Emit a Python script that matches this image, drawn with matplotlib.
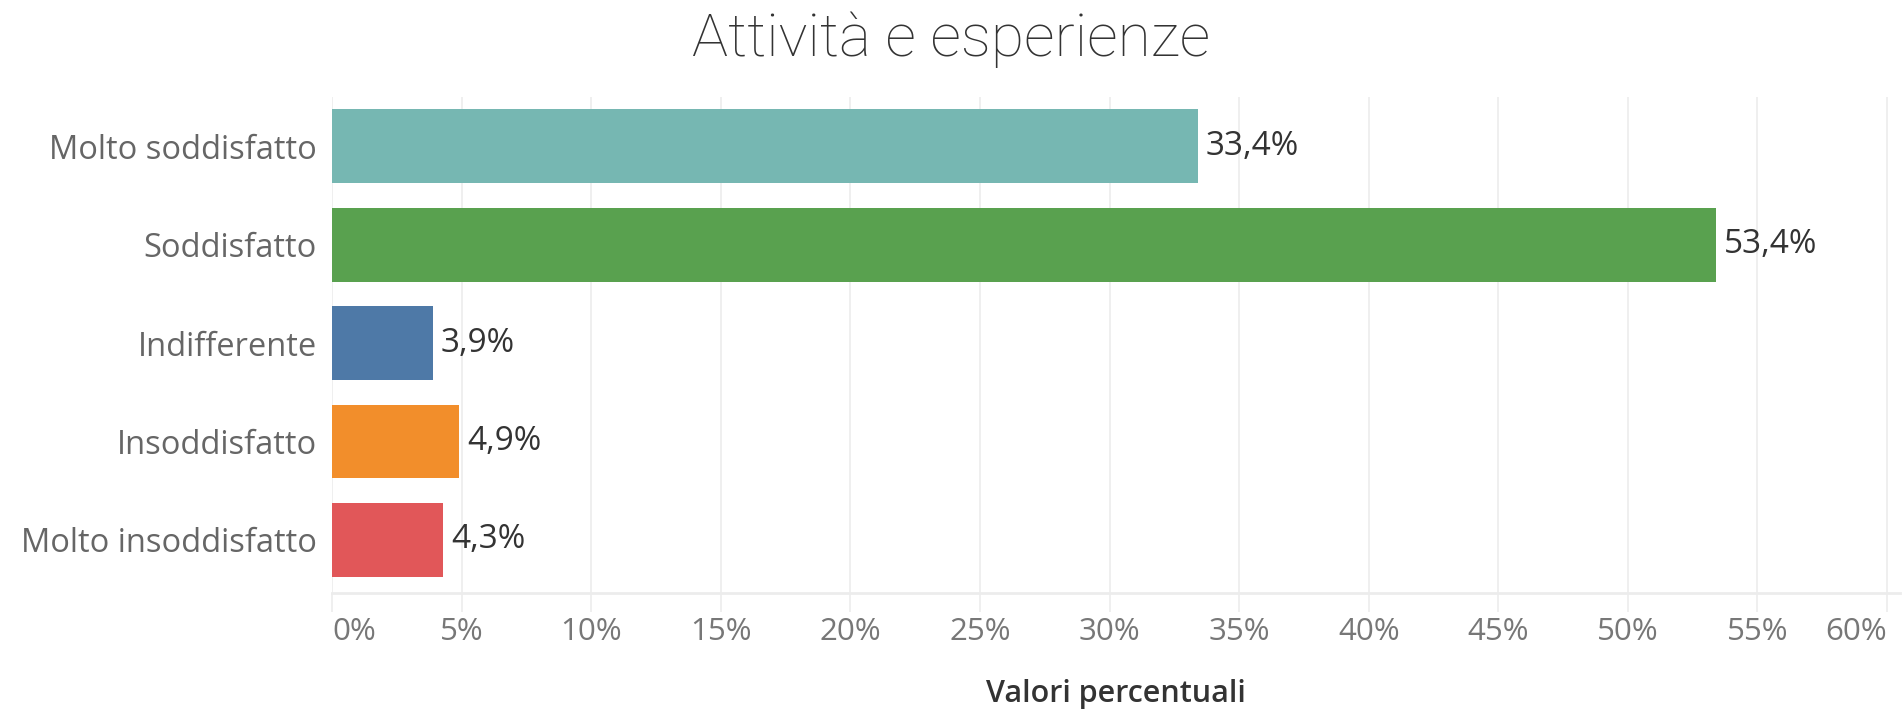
import matplotlib
matplotlib.use("Agg")
import matplotlib.pyplot as plt

title = "Attività e esperienze"
categories = ["Molto soddisfatto", "Soddisfatto", "Indifferente", "Insoddisfatto", "Molto insoddisfatto"]
values = [33.4, 53.4, 3.9, 4.9, 4.3]
value_labels = ["33,4%", "53,4%", "3,9%", "4,9%", "4,3%"]
colors = ["#76B7B2", "#59A14F", "#4E79A7", "#F28E2B", "#E15759"]
xticks = [0, 5, 10, 15, 20, 25, 30, 35, 40, 45, 50, 55, 60]
xtick_labels = ["0%", "5%", "10%", "15%", "20%", "25%", "30%", "35%", "40%", "45%", "50%", "55%", "60%"]
xlabel = "Valori percentuali"

W, H = 1903, 710
fig = plt.figure(figsize=(W / 100, H / 100), dpi=100)
ax = fig.add_axes([332 / W, 1 - 593 / H, (1900 - 332) / W, (593 - 97) / H])

font = "Open Sans"
y = list(range(len(categories)))
ax.barh(y, values, height=0.75, color=colors, zorder=3)
ax.set_ylim(4.54, -0.5)
ax.set_xlim(0, 60.5)

grid_c = "#ececec"
for x in xticks:
    ax.axvline(x, color=grid_c, lw=1.2, zorder=1)
ax.axhline(4.54, color=grid_c, lw=2, zorder=1, clip_on=False)

for s in ax.spines.values():
    s.set_visible(False)

ax.set_xticks(xticks)
ax.set_xticklabels(xtick_labels, family=font, fontsize=22.5, color="#777777")
ax.tick_params(axis="x", length=14, width=1.2, color=grid_c, pad=3)
lbls = ax.get_xticklabels()
lbls[0].set_horizontalalignment("left")
lbls[-1].set_horizontalalignment("right")

ax.set_yticks(y)
ax.set_yticklabels(categories, family=font, fontsize=23.5, color="#666666")
ax.tick_params(axis="y", length=0, pad=11)

for yi, v, lab in zip(y, values, value_labels):
    ax.text(v + 0.3, yi, lab, va="center", ha="left", family=font, fontsize=24, color="#333333", zorder=4)

fig.text((332 + 1900) / 2 / W, 1 - 694 / H, xlabel, ha="center", va="center",
         family=font, fontsize=22, fontweight="semibold", color="#333333")
fig.text(951 / W, 1 - 40 / H, title, ha="center", va="center",
         family="Roboto", fontweight="light", fontsize=43.5, color="#333333")

fig.savefig("out.png", dpi=100, facecolor="white")
